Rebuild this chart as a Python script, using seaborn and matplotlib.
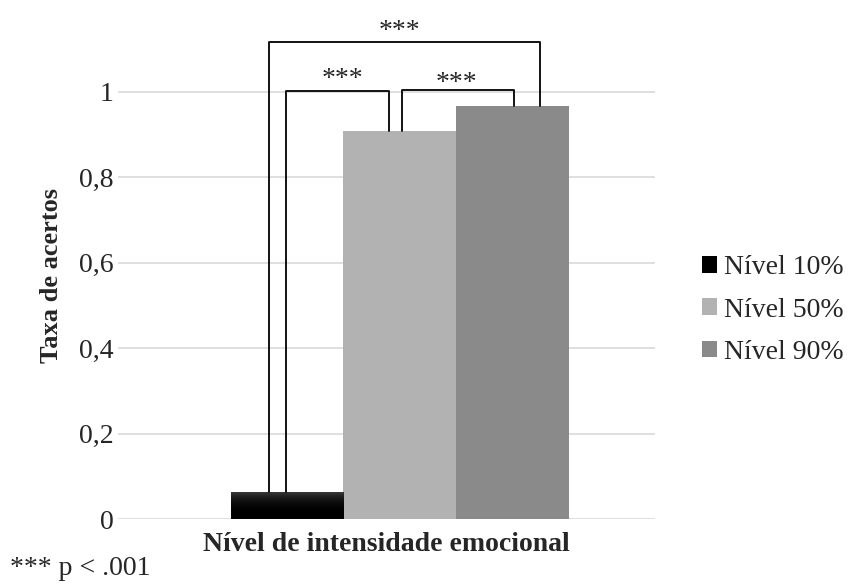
import pandas as pd
import numpy as np
import matplotlib.pyplot as plt
import seaborn as sns
from matplotlib.patches import Patch

# data
niveis = ['Nível 10%', 'Nível 50%', 'Nível 90%']
taxa = [0.063, 0.908, 0.967]
cores = ['#000000', '#b2b2b2', '#8a8a8a']
yticks = [0, 0.2, 0.4, 0.6, 0.8, 1.0]
ytick_labels = ['0', '0,2', '0,4', '0,6', '0,8', '1']

df = pd.DataFrame({'grupo': ['g'] * 3, 'nivel': niveis, 'taxa': taxa})

sns.set_style('white')
plt.rcParams['font.family'] = ['Liberation Serif', 'DejaVu Serif']

fig = plt.figure(figsize=(8.58, 5.85), dpi=100)
ax = fig.add_axes([0.1375, 0.1128, 0.6258, 0.876])

sns.barplot(data=df, x='grupo', y='taxa', hue='nivel', palette=cores,
            width=0.8, saturation=1, legend=False, linewidth=0, ax=ax, zorder=3)

# black bar: slightly lighter at the top
b = ax.patches[0]
x0, w, h = b.get_x(), b.get_width(), b.get_height()
grad = np.linspace(0, 1, 50).reshape(-1, 1) ** 3 * 0.22
im = ax.imshow(grad, cmap='gray', vmin=0, vmax=1, aspect='auto',
               extent=[x0, x0 + w, 0, h], origin='lower', zorder=3.5)
im.set_clip_path(b)

ax.set_xlim(-0.667, 0.604)
ax.set_ylim(0, 1.2)
ax.set_yticks(yticks)
ax.set_yticklabels(ytick_labels, fontsize=20)
ax.set_xticks([])
ax.tick_params(axis='y', length=0, pad=3)
ax.yaxis.grid(True, color='#d9d9d9', lw=1.2, zorder=0)
ax.set_axisbelow(True)
for s in ax.spines.values():
    s.set_visible(False)

ax.set_ylabel('Taxa de acertos', fontsize=19, fontweight='bold')
ax.yaxis.set_label_coords(-0.102, 0.476)
ax.set_xlabel('Nível de intensidade emocional', fontsize=20, fontweight='bold', labelpad=9)

# significance brackets
def bracket(x0, x1, y0, y1, top, label, lx, ly):
    ax.plot([x0, x0, x1, x1], [y0, top, top, y1], color='black', lw=1.3,
            clip_on=False, zorder=4)
    ax.text(lx, ly, label, ha='center', va='bottom', fontsize=20)

bracket(-0.310, 0.331, taxa[0], taxa[2], 1.117, '***', 0.0, 1.113)
bracket(-0.270, -0.026, taxa[0], taxa[1], 1.002, '***', -0.135, 1.001)
bracket(0.005, 0.270, taxa[1], taxa[2], 1.005, '***', 0.135, 0.99)

handles = [Patch(facecolor=c, edgecolor='none') for c in cores]
fig.legend(handles, niveis, loc='center left', bbox_to_anchor=(0.805, 0.47),
           frameon=False, fontsize=20, handlelength=0.55, handleheight=0.55,
           handletextpad=0.25, labelspacing=0.62, borderaxespad=0)

fig.text(0.012, 0.029, '*** p < .001', fontsize=20, ha='left', va='center')

fig.savefig('out.png', dpi=100)
